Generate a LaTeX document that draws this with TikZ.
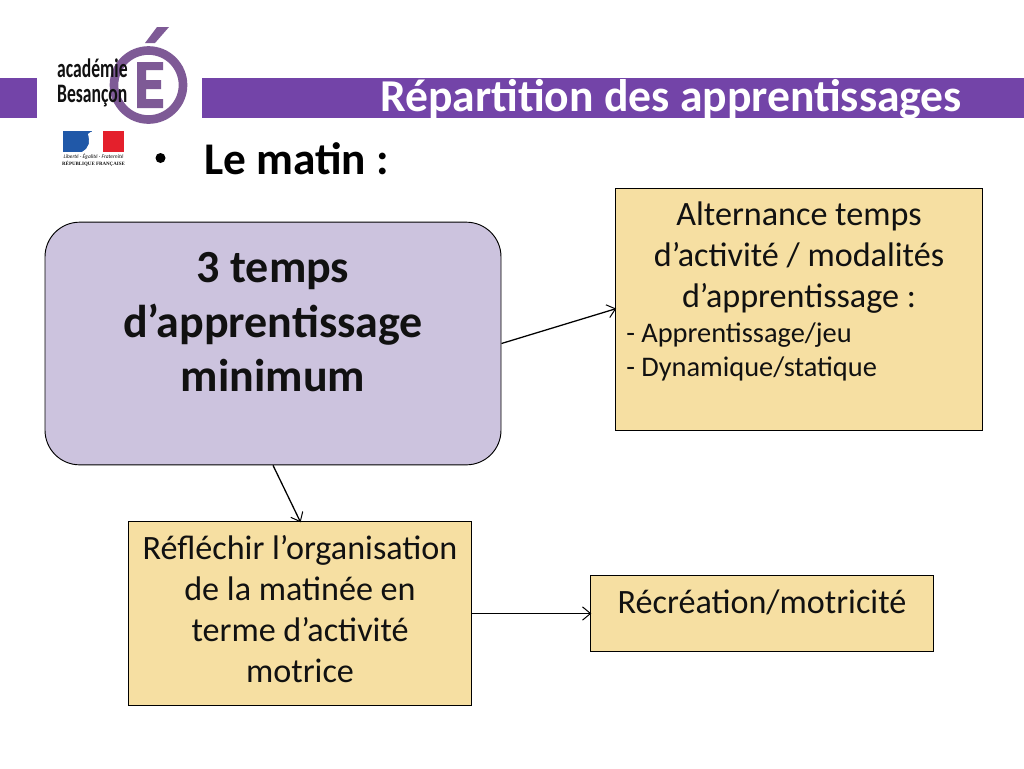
\documentclass[tikz,border=0pt]{standalone}
\usepackage{fontspec}
\setmainfont{Carlito}
\newfontfamily\rfserif{Liberation Serif}
\usetikzlibrary{arrows.meta}
\definecolor{band}{HTML}{7344A8}
\definecolor{logop}{HTML}{7E5A96}
\definecolor{lilac}{HTML}{CCC3DE}
\definecolor{sand}{HTML}{F6DFA2}
\definecolor{ink}{HTML}{111111}
\definecolor{flagblue}{HTML}{2058A8}
\definecolor{flagred}{HTML}{E4202C}
\tikzset{
 x=0.75pt,y=-0.75pt,
 bandbar/.style={fill=band,draw=none},
 softbox/.style={draw=black,line width=0.7pt,fill=lilac,rounded corners=26pt,inner sep=0pt},
 sandbox/.style={draw=black,line width=0.6pt,fill=sand,inner sep=0pt},
 link/.style={draw=black,line width=0.95pt,-{Straight Barb[length=6pt,width=10pt,line width=0.75pt]},shorten >=-1pt},
 big/.style={font=\fontsize{34.5}{40.8}\selectfont\bfseries,align=center,inner sep=0pt,text=ink},
 mid/.style={font=\fontsize{25.6}{30.8}\selectfont,align=center,inner sep=0pt,text=ink},
 small/.style={font=\fontsize{21.3}{25.5}\selectfont,align=left,inner sep=0pt,text=ink},
 logotext/.style={anchor=base west,inner sep=0pt,text=ink,font=\fontsize{20}{20}\selectfont\bfseries,xscale=0.66},
}
\begin{document}
\begin{tikzpicture}
\useasboundingbox (0,0) rectangle (1024,768);
\fill[white] (0,0) rectangle (1024,768);
% bands
\fill[bandbar] (0,78) rectangle (37,118);
\fill[bandbar] (202,78) rectangle (1024,118);
\node[anchor=base west,inner sep=0pt,text=white,font=\fontsize{34.2}{40}\selectfont\bfseries] (title) at (380,111) {Répartition des apprentissages};
% logo E
\draw[logop,line width=6.5pt] (148.5,85) circle (34.5);
\fill[logop] (137,62) -- (163,62) -- (163,70) -- (146,70) -- (146,80) -- (161,80) -- (161,89) -- (146,89) -- (146,99) -- (163,99) -- (163,108) -- (137,108) -- cycle;
\fill[logop] (145,43) -- (157,27) -- (169,27) -- (155,43) -- cycle;
\node[logotext] (ac) at (57,77) {académie};
\node[logotext] (be) at (57,102) {Besançon};
% flag
\fill[flagblue] (63,131) rectangle (92,152);
\fill[white] (92,131) rectangle (103,152);
\fill[flagred] (103,131) rectangle (124,152);
\fill[white] (88,134) .. controls (94,128) and (103,133) .. (103,141) .. controls (104,146) and (100,150) .. (98,152) -- (82,152) .. controls (90,147) and (90,142) .. (88,134) -- cycle;
\node[inner sep=0pt,text=ink,font=\fontsize{4.1}{5}\selectfont\itshape] (dev) at (93.5,156.5) {Liberté · Égalité · Fraternité};
\node[inner sep=0pt,text=ink,font=\fontsize{3.7}{5}\selectfont\rfserif\bfseries] (rf) at (93.5,163.5) {RÉPUBLIQUE FRANÇAISE};
% heading
\node[inner sep=0pt,text=black,font=\fontsize{34}{40}\selectfont\bfseries,anchor=base west] (matin) at (204,174) {Le matin :};
\fill[black] (160.5,158) circle (5);
% boxes
\node[softbox,minimum width=342pt,minimum height=182pt] (main) at (273,343.5) {};
\node[sandbox,minimum width=275.5pt,minimum height=181.5pt] (alt) at (799,309) {};
\node[sandbox,minimum width=257.5pt,minimum height=138pt] (refl) at (300,613.5) {};
\node[sandbox,minimum width=257.5pt,minimum height=57pt] (recre) at (762,613.5) {};
% texts
\node[big,anchor=north] (maint) at (273,252.5) {3 temps\\d’apprentissage\\minimum};
\node[mid,anchor=north] (altt) at (799,201.5) {Alternance temps\\d’activité / modalités\\d’apprentissage :};
\node[small,anchor=north west] (list) at (626,323) {- Apprentissage/jeu\\- Dynamique/statique};
\node[mid,anchor=north] (reflt) at (300,535) {Réfléchir l’organisation\\de la matinée en\\terme d’activité\\motrice};
\node[mid,anchor=north] (recret) at (762,590) {Récréation/motricité};
% links
\draw[link] (main.east) -- (alt.west);
\draw[link] (main.south) -- (refl.north);
\draw[link] (refl.east) -- (recre.west);
\end{tikzpicture}
\end{document}
